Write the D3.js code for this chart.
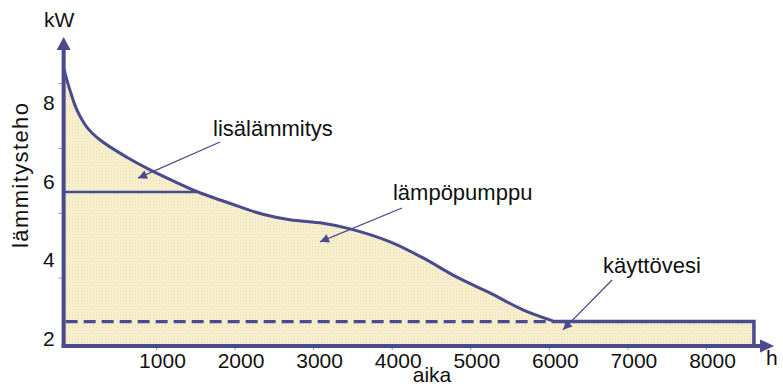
<!DOCTYPE html>
<html>
<head>
<meta charset="utf-8">
<script src="https://cdn.jsdelivr.net/npm/d3@7"></script>
<style>
  html, body { margin: 0; padding: 0; background: #ffffff; }
  svg { display: block; font-family: "Liberation Sans", Arial, sans-serif; }
</style>
</head>
<body>
<svg id="chart" width="783" height="387"></svg>
<script>
// Heating power duration curve: hours of the year vs. heating power (kW)
const hours      = [-170, -95, -5, 120, 290, 630, 925, 1305, 1520, 2070, 2360, 2705, 3125, 3470, 3980, 4400, 4830, 5250, 5670, 6050];
const heatDemand = [8.85, 8.32, 7.81, 7.38, 7.05, 6.61, 6.29, 5.93, 5.74, 5.35, 5.16, 5.02, 4.93, 4.79, 4.46, 4.05, 3.56, 3.16, 2.73, 2.45];

// Heat pump capacity level and domestic hot water base load
const pumpMaxKw     = 5.73;
const pumpMaxUntil  = 1520;
const hotWaterKw    = 2.43;
const hotWaterUntil = 8610;

// Axis extents
const axisStartHour = -175;
const axisEndHour   = 8866;
const axisFloorKw   = 1.81;
const axisTopKw     = 9.67;

// Tick values
const xTickValues = [1000, 2000, 3000, 4000, 5000, 6000, 7000, 8000];
const yTickValues = [2, 4, 6, 8];
const yMarkTicks  = [3.55, 5.2, 6.85, 8.5];

// Annotations (in hours / kW)
const annotationLabels = ["lisälämmitys", "lämpöpumppu", "käyttövesi"];
const annotationTextAt = [[1726, 7.15], [4016, 5.52], [6689, 3.67]];
const annotationFrom   = [[1815, 7.0], [4131, 5.32], [6804, 3.49]];
const annotationTo     = [[771, 6.08], [3087, 4.46], [6180, 2.22]];

const ink = "#4a4a8e";
const svg = d3.select("#chart");

const x = d3.scaleLinear().domain([0, 8000]).range([77.4, 706]);
const y = d3.scaleLinear().domain([2, 8]).range([338.5, 102.7]);

const x0 = x(axisStartHour);
const yBase = y(axisFloorKw);

// Textured cream fill
const defs = svg.append("defs");
const pat = defs.append("pattern")
  .attr("id", "grain").attr("width", 3).attr("height", 3)
  .attr("patternUnits", "userSpaceOnUse");
pat.append("rect").attr("width", 3).attr("height", 3).attr("fill", "#f8f1d0");
pat.append("rect").attr("width", 1).attr("height", 1).attr("fill", "#e7dcab");
pat.append("rect").attr("x", 1.5).attr("y", 1.5).attr("width", 1).attr("height", 1).attr("fill", "#eee4bc");

defs.append("marker")
  .attr("id", "head").attr("viewBox", "0 0 10 10")
  .attr("refX", 10).attr("refY", 5)
  .attr("markerWidth", 11).attr("markerHeight", 9)
  .attr("markerUnits", "userSpaceOnUse")
  .attr("orient", "auto")
  .append("path").attr("d", "M0,0 L10,5 L0,10 Z").attr("fill", ink);

const curvePts = hours.map((h, i) => [h, heatDemand[i]]);
const smooth = d3.curveCatmullRom.alpha(0.5);

// Area under the demand curve
svg.append("path")
  .attr("d", d3.area()
    .x(d => x(d[0]))
    .y0(yBase)
    .y1(d => y(d[1]))
    .curve(smooth)(curvePts))
  .attr("fill", "url(#grain)");

// Hot water block to the end of the year
svg.append("rect")
  .attr("x", x(hours[hours.length - 1]) - 0.5)
  .attr("y", y(hotWaterKw))
  .attr("width", x(hotWaterUntil) - x(hours[hours.length - 1]) + 0.5)
  .attr("height", yBase - y(hotWaterKw))
  .attr("fill", "url(#grain)");

// Heat pump capacity line
svg.append("line")
  .attr("x1", x0).attr("x2", x(pumpMaxUntil))
  .attr("y1", y(pumpMaxKw)).attr("y2", y(pumpMaxKw))
  .attr("stroke", ink).attr("stroke-width", 2.5);

// Hot water base load: dashed under the curve, solid beyond it
svg.append("line")
  .attr("x1", x0 + 2).attr("x2", x(hours[hours.length - 1]))
  .attr("y1", y(hotWaterKw)).attr("y2", y(hotWaterKw))
  .attr("stroke", ink).attr("stroke-width", 3.2)
  .attr("stroke-dasharray", "12,6");

svg.append("path")
  .attr("d", d3.line()([
    [x(hours[hours.length - 1]), y(hotWaterKw)],
    [x(hotWaterUntil), y(hotWaterKw)],
    [x(hotWaterUntil), yBase]
  ]))
  .attr("fill", "none").attr("stroke", ink).attr("stroke-width", 3.5);

// Demand curve
svg.append("path")
  .attr("d", d3.line()
    .x(d => x(d[0]))
    .y(d => y(d[1]))
    .curve(smooth)(curvePts))
  .attr("fill", "none").attr("stroke", ink).attr("stroke-width", 3);

// X axis ticks and labels
const xAxis = svg.append("g")
  .attr("transform", `translate(0,${yBase})`)
  .call(d3.axisBottom(x).tickValues(xTickValues).tickSize(4).tickPadding(3).tickFormat(d3.format("d")));
xAxis.select(".domain").remove();
xAxis.selectAll(".tick line").attr("stroke", "#8a8ab0").attr("stroke-width", 1);
xAxis.selectAll(".tick text")
  .attr("dx", 6)
  .attr("font-size", 21).attr("font-family", "Liberation Sans, Arial, sans-serif").attr("fill", "#111");

// Y axis labels and tick marks
const yAxis = svg.append("g")
  .attr("transform", `translate(${x0},0)`)
  .call(d3.axisLeft(y).tickValues(yTickValues).tickSize(0).tickPadding(9).tickFormat(d3.format("d")));
yAxis.select(".domain").remove();
yAxis.selectAll(".tick text")
  .attr("font-size", 21).attr("font-family", "Liberation Sans, Arial, sans-serif").attr("fill", "#111");

const yMarks = svg.append("g")
  .attr("transform", `translate(${x0},0)`)
  .call(d3.axisLeft(y).tickValues(yMarkTicks).tickSize(5).tickFormat(""));
yMarks.select(".domain").remove();
yMarks.selectAll(".tick line").attr("stroke", "#8a8ab0").attr("stroke-width", 1);

// Axis lines with arrowheads
const yTip = y(axisTopKw);
const xTip = x(axisEndHour);
svg.append("line")
  .attr("x1", x0).attr("x2", x0)
  .attr("y1", yBase + 2).attr("y2", yTip + 10)
  .attr("stroke", ink).attr("stroke-width", 4);
svg.append("path")
  .attr("d", `M${x0},${yTip} L${x0 + 7},${yTip + 13} L${x0 - 7},${yTip + 13} Z`)
  .attr("fill", ink);
svg.append("line")
  .attr("x1", x0 - 2).attr("x2", xTip - 10)
  .attr("y1", yBase).attr("y2", yBase)
  .attr("stroke", ink).attr("stroke-width", 4);
svg.append("path")
  .attr("d", `M${xTip},${yBase} L${xTip - 14},${yBase - 6.5} L${xTip - 14},${yBase + 6.5} Z`)
  .attr("fill", ink);

// Annotation arrows and labels
annotationLabels.forEach((label, i) => {
  svg.append("line")
    .attr("x1", x(annotationFrom[i][0])).attr("y1", y(annotationFrom[i][1]))
    .attr("x2", x(annotationTo[i][0])).attr("y2", y(annotationTo[i][1]))
    .attr("stroke", ink).attr("stroke-width", 1.3)
    .attr("marker-end", "url(#head)");
  svg.append("text")
    .attr("x", x(annotationTextAt[i][0]))
    .attr("y", y(annotationTextAt[i][1]))
    .attr("font-size", 22)
    .attr("fill", "#111")
    .text(label);
});

// Axis titles
svg.append("text").attr("x", 44).attr("y", 27).attr("font-size", 21).attr("fill", "#111").text("kW");
svg.append("text").attr("x", 766).attr("y", 365).attr("font-size", 21).attr("fill", "#111").text("h");
svg.append("text").attr("x", 432).attr("y", 382).attr("text-anchor", "middle").attr("font-size", 21).attr("fill", "#111").text("aika");
svg.append("text")
  .attr("transform", "translate(28,175.5) rotate(-90)")
  .attr("text-anchor", "middle")
  .attr("font-size", 22)
  .attr("textLength", 145).attr("lengthAdjust", "spacing")
  .attr("fill", "#111")
  .text("lämmitysteho");
</script>
</body>
</html>
